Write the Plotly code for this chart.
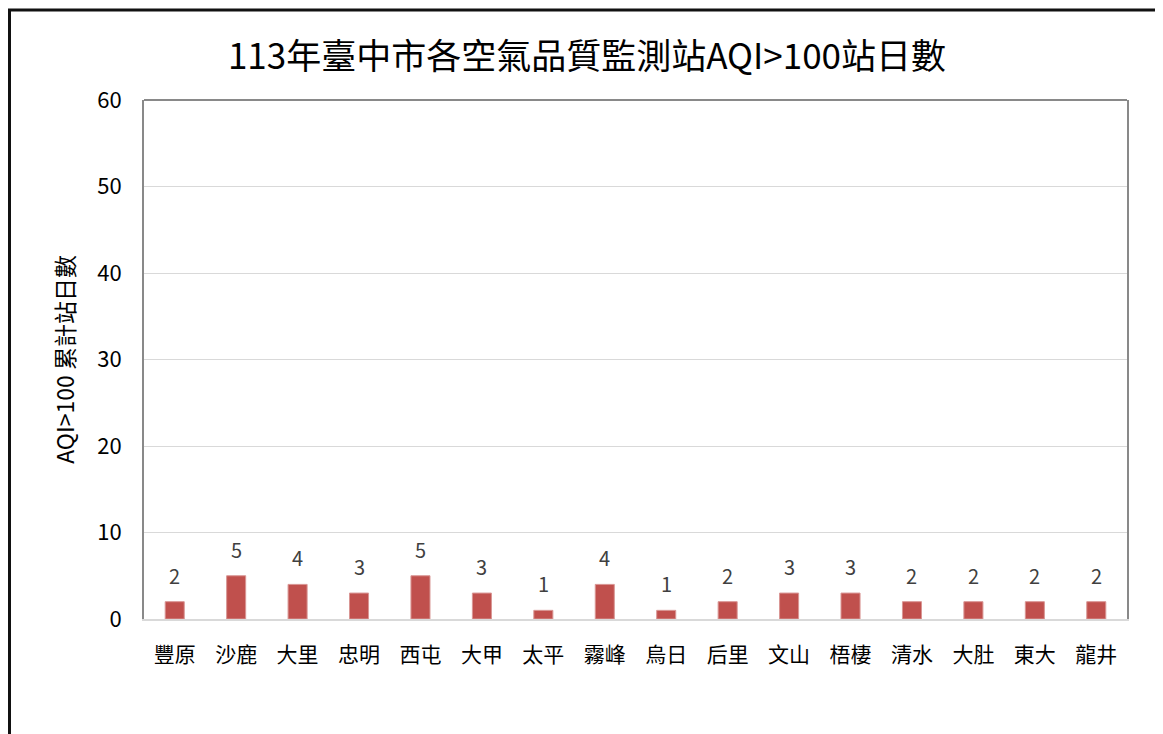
import plotly.graph_objects as go

stations = ["豐原", "沙鹿", "大里", "忠明", "西屯", "大甲", "太平", "霧峰",
            "烏日", "后里", "文山", "梧棲", "清水", "大肚", "東大", "龍井"]
days = [2, 5, 4, 3, 5, 3, 1, 4, 1, 2, 3, 3, 2, 2, 2, 2]
y_ticks = [0, 10, 20, 30, 40, 50, 60]

FONT = "Noto Sans CJK TC"
OFF = 8  # page body margin
W, H = 1163 - OFF, 734 - OFF
# plot area in page pixels: x 144..1127, y 100..619
L = 144 - OFF
T = 100 - OFF
R = W - (1127 - OFF)
B = H - (619 - OFF)
pw, ph = W - L - R, H - T - B

def px_x(x):
    return (x - OFF - L) / pw

def px_y(y):
    return (H - B - (y - OFF)) / ph

fig = go.Figure(go.Bar(
    x=stations, y=days,
    marker=dict(color="#c0504d", line=dict(color="#d99694", width=1)),
    width=0.31,
    cliponaxis=False,
))

for s, d in zip(stations, days):
    fig.add_annotation(x=s, y=d, text=str(d), showarrow=False,
                       yanchor="bottom", yshift=10,
                       font=dict(family=FONT, size=20, color="#404040"))

fig.update_layout(
    width=W, height=H,
    margin=dict(l=L, r=R, t=T, b=B),
    paper_bgcolor="white", plot_bgcolor="white",
    font=dict(family=FONT, color="#000000"),
    title=dict(text="113年臺中市各空氣品質監測站AQI>100站日數",
               x=px_x(587), xref="paper", xanchor="center",
               y=1 - (57 - OFF) / H, yanchor="middle",
               font=dict(family=FONT, size=35, color="#000000")),
    showlegend=False,
)
fig.update_xaxes(
    showline=True, linecolor="#d9d9d9", linewidth=2,
    ticks="", tickfont=dict(family=FONT, size=21, color="#000000"),
    ticklabelstandoff=16, showgrid=False,
)
fig.update_yaxes(
    range=[0, 60], tickvals=y_ticks, ticktext=[str(v) for v in y_ticks],
    showgrid=True, gridcolor="#d9d9d9", gridwidth=1.3, zeroline=False,
    showline=True, linecolor="#898989", linewidth=2, mirror=True,
    ticks="", tickfont=dict(family=FONT, size=22, color="#000000"),
    ticklabelstandoff=16,
    title=dict(text="AQI>100 累計站日數", font=dict(family=FONT, size=23, color="#000000"),
               standoff=16),
)
# top border of plot area
fig.add_shape(type="line", xref="paper", yref="paper", x0=0, x1=1, y0=1, y1=1,
              line=dict(color="#898989", width=2))
# outer chart frame
fig.add_shape(type="rect", xref="paper", yref="paper",
              x0=px_x(9.5), x1=px_x(1200), y0=px_y(780), y1=px_y(10),
              line=dict(color="#111111", width=3), layer="above")

fig.write_html("out.html")
